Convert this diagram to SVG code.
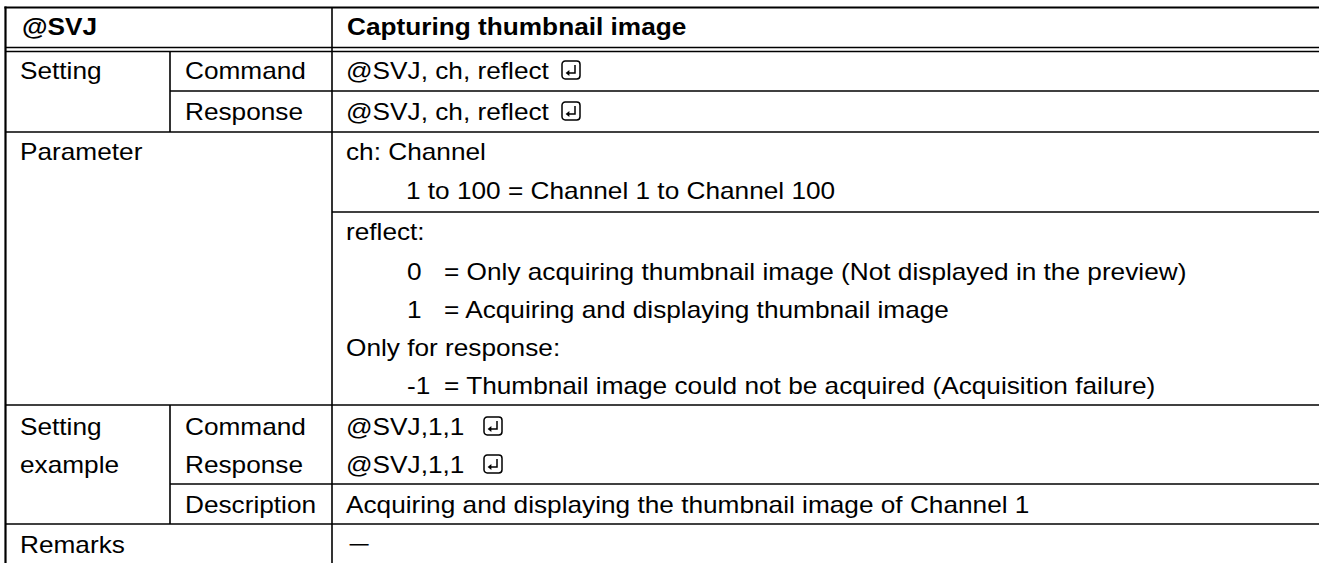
<svg xmlns="http://www.w3.org/2000/svg" width="1319" height="563" viewBox="0 0 1319 563">
<style>
.t{font-family:"Liberation Sans",Arial,sans-serif;font-size:23px;fill:#000}
.b{font-weight:bold}
.ln{stroke:#000;stroke-width:1.6;fill:none}
.ob{stroke:#000;stroke-width:2.2;fill:none}
.dl{stroke:#000;stroke-width:1.3;fill:none}
.key{stroke:#000;stroke-width:1.5;fill:#fff}
.arr{stroke:#000;stroke-width:1.5;fill:none}
</style>
<defs>
<g id="retkey">
<rect class="key" x="0" y="0" width="18" height="18" rx="3.2"/>
<path class="arr" d="M13 4 V12 H5.5"/>
<path d="M3.6 12 L7.4 9.1 L7.4 14.9 Z" fill="#000"/>
</g>
</defs>
<rect width="1319" height="563" fill="#fff"/>
<g id="grid">
<line class="ob" x1="4.4" y1="7.5" x2="1319" y2="7.5"/>
<line class="ob" x1="5.5" y1="6.4" x2="5.5" y2="563"/>
<line class="ln" x1="332" y1="7" x2="332" y2="563"/>
<line class="dl" x1="5" y1="47.5" x2="1319" y2="47.5"/>
<line class="dl" x1="5" y1="51.5" x2="1319" y2="51.5"/>
<line class="ln" x1="170" y1="52" x2="170" y2="132"/>
<line class="ln" x1="170" y1="91" x2="1319" y2="91"/>
<line class="ln" x1="5" y1="132" x2="1319" y2="132"/>
<line class="ln" x1="332" y1="212" x2="1319" y2="212"/>
<line class="ln" x1="5" y1="405" x2="1319" y2="405"/>
<line class="ln" x1="170" y1="405" x2="170" y2="524"/>
<line class="ln" x1="170" y1="484" x2="1319" y2="484"/>
<line class="ln" x1="5" y1="524" x2="1319" y2="524"/>
</g>
<g id="icons">
<use href="#retkey" x="562" y="61"/>
<use href="#retkey" x="562" y="102"/>
<use href="#retkey" x="484" y="417"/>
<use href="#retkey" x="484" y="455"/>
</g>
<g transform="scale(1.14 1)">
<g id="header">
<text class="t b" x="19.3" y="35">@SVJ</text>
<text class="t b" x="304.4" y="35">Capturing thumbnail image</text>
</g>
<g id="setting">
<text class="t" x="17.54" y="79">Setting</text>
<text class="t" x="162.28" y="79">Command</text>
<text class="t" x="162.28" y="120">Response</text>
<text class="t" x="303.5" y="79">@SVJ, ch, reflect</text>
<text class="t" x="303.5" y="120">@SVJ, ch, reflect</text>
</g>
<g id="parameter">
<text class="t" x="17.54" y="160">Parameter</text>
<text class="t" x="303.5" y="160">ch: Channel</text>
<text class="t" x="356.1" y="199">1 to 100 = Channel 1 to Channel 100</text>
<text class="t" x="303.5" y="240">reflect:</text>
<text class="t" x="357" y="280">0</text>
<text class="t" x="389.5" y="280">= Only acquiring thumbnail image (Not displayed in the preview)</text>
<text class="t" x="357" y="318">1</text>
<text class="t" x="389.5" y="318">= Acquiring and displaying thumbnail image</text>
<text class="t" x="303.5" y="356">Only for response:</text>
<text class="t" x="357" y="394">-1</text>
<text class="t" x="389.5" y="394">= Thumbnail image could not be acquired (Acquisition failure)</text>
</g>
<g id="example">
<text class="t" x="17.54" y="435">Setting</text>
<text class="t" x="17.54" y="473">example</text>
<text class="t" x="162.28" y="435">Command</text>
<text class="t" x="162.28" y="473">Response</text>
<text class="t" x="162.28" y="513">Description</text>
<text class="t" x="303.5" y="435">@SVJ,1,1</text>
<text class="t" x="303.5" y="473">@SVJ,1,1</text>
<text class="t" x="303.5" y="513">Acquiring and displaying the thumbnail image of Channel 1</text>
</g>
<g id="remarks">
<text class="t" x="17.54" y="553">Remarks</text>
<text class="t" x="303.5" y="553" style="font-family:'Noto Sans CJK JP',sans-serif">－</text>
</g>
</g>
</svg>
